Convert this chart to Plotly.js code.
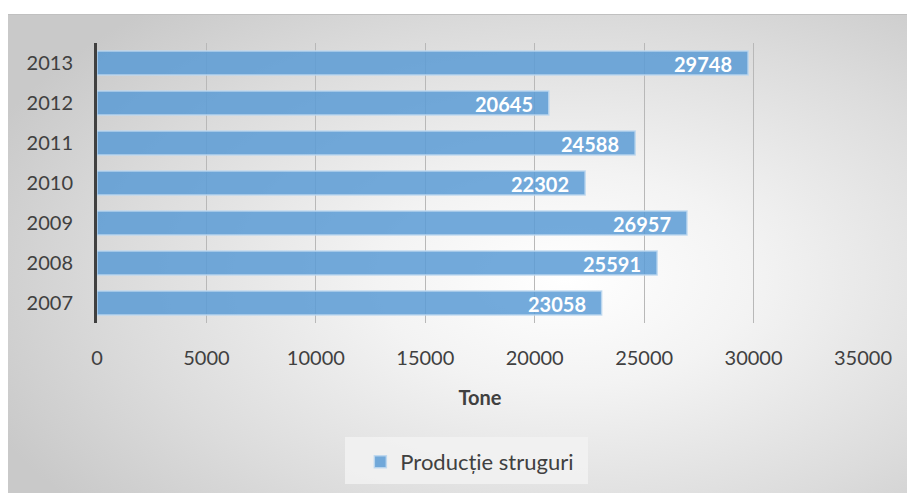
<!DOCTYPE html>
<html>
<head>
<meta charset="utf-8">
<script src="https://cdn.plot.ly/plotly-3.0.1.min.js"></script>
<style>
html,body{margin:0;padding:0;background:#fff;}
#wrap{position:relative;width:907px;height:493px;overflow:hidden;}
#bg{position:absolute;left:8px;top:14px;width:899px;height:479px;
 background:radial-gradient(ellipse 70% 75% at 62% 55%, #ffffff 0%, #f3f3f3 30%, #dcdcdc 70%, #c9c9c9 100%);
 border-top:1px solid #c0c0c0;}
#chart{position:absolute;left:0;top:0;width:907px;height:493px;}
</style>
</head>
<body>
<div id="wrap"><div id="bg"></div><div id="chart"></div></div>
<script>
const years = ['2007','2008','2009','2010','2011','2012','2013'];
const production = [23058, 25591, 26957, 22302, 24588, 20645, 29748];
const seriesName = 'Producție struguri';
const xTicks = [0,5000,10000,15000,20000,25000,30000,35000];

const font = 'Lato, "Open Sans", sans-serif';

const trace = {
  type: 'bar',
  orientation: 'h',
  x: production,
  y: years,
  name: seriesName,
  marker: {color: 'rgba(91,155,213,0.85)', line: {color: 'rgba(189,215,238,0.9)', width: 1.5}},
  hoverinfo: 'x+y'
};

// y given as category index so the label sits on its bar
const annotations = production.map((v, i) => ({
  x: v, y: i, xref: 'x', yref: 'y',
  text: String(v), showarrow: false, xanchor: 'right', xshift: -14, yshift: -1,
  font: {family: font, size: 20, color: '#ffffff', weight: 'bold'}
}));

const layout = {
  width: 907, height: 493,
  paper_bgcolor: 'rgba(0,0,0,0)',
  plot_bgcolor: 'rgba(0,0,0,0)',
  margin: {l: 97, r: 44, t: 43, b: 170},
  bargap: 0.4,
  showlegend: true,
  legend: {
    orientation: 'h', xref: 'container', yref: 'container',
    x: 0.518, xanchor: 'center', y: 0.063, yanchor: 'middle',
    bgcolor: 'rgba(0,0,0,0)', font: {family: font, size: 22, color: '#404040'},
    itemclick: false
  },
  shapes: [{
    type: 'rect', xref: 'paper', yref: 'paper',
    x0: (345-97)/766, x1: (588-97)/766, y0: (323-484)/280, y1: (323-437)/280,
    fillcolor: 'rgba(242,242,242,0.85)', line: {width: 0}, layer: 'below'
  }],
  xaxis: {
    range: [0, 35000], tickvals: xTicks, ticktext: xTicks.map(String),
    showgrid: true, gridcolor: '#b8b8b8', gridwidth: 1, zeroline: false,
    showline: false, ticks: '', ticklen: 0,
    tickfont: {family: font, size: 20, color: '#404040'},
    ticklabelstandoff: 21,
    title: {text: 'Tone', font: {family: font, size: 20, color: '#404040', weight: 'bold'}, standoff: 22},
    automargin: false,
    fixedrange: true
  },
  yaxis: {
    type: 'category', categoryorder: 'array', categoryarray: years,
    range: [-0.5, years.length - 0.5],
    showline: true, linecolor: '#404040', linewidth: 3,
    showgrid: false, zeroline: false, ticks: '',
    tickfont: {family: font, size: 20, color: '#404040'},
    ticklabelstandoff: 17,
    automargin: false,
    fixedrange: true
  },
  annotations: annotations
};

Plotly.newPlot('chart', [trace], layout, {displayModeBar: false, staticPlot: true});
</script>
</body>
</html>
